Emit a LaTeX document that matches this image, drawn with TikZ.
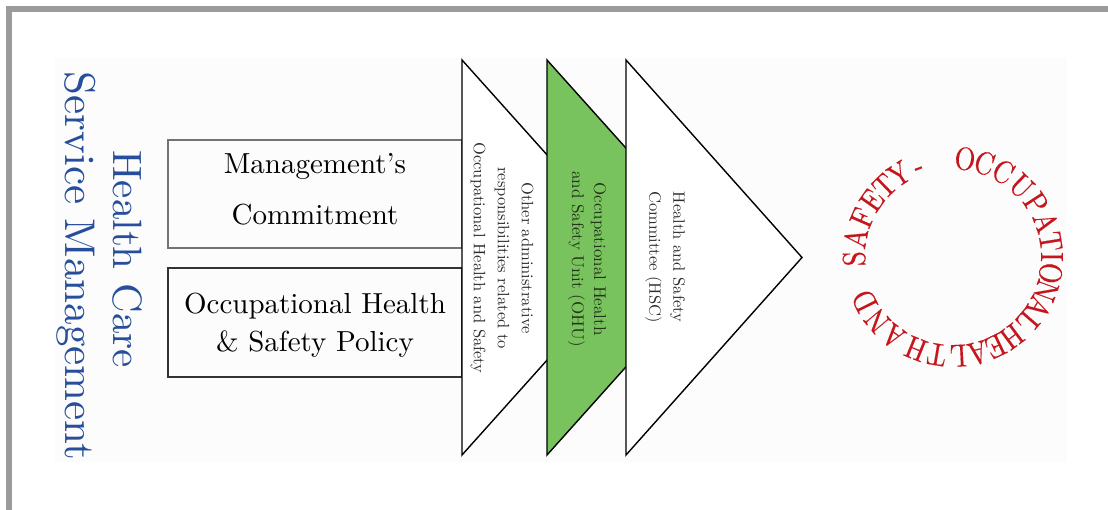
\documentclass[tikz,border=0pt]{standalone}
\usepackage{fontspec}
% fixed 10pt design of Latin Modern at every size
\setmainfont{lmroman10-regular.otf}[BoldFont=lmroman10-bold.otf]
\newfontfamily\ringfont{lmroman10-regular.otf}[FakeStretch=0.84, FakeBold=0.3]

\definecolor{framegray}{RGB}{155,155,155}
\definecolor{panelgray}{RGB}{252,252,252}
\definecolor{titleblue}{RGB}{38,78,156}
\definecolor{unitgreen}{RGB}{120,195,94}
\definecolor{ringred}{RGB}{196,22,28}
\definecolor{textgray}{RGB}{45,45,45}
\definecolor{unittext}{RGB}{36,52,26}

\begin{document}
\begin{tikzpicture}[x=1pt,y=1pt,
  box/.style={draw, line width=1.3pt, minimum width=294pt, inner sep=0pt},
  boxtext/.style={align=center, text=black, inner sep=0pt},
  chevron/.style={draw=black, line width=1.4pt, line join=miter},
  vlabel/.style={rotate=-90, align=center, text=textgray, inner sep=0pt},
  title/.style={rotate=-90, anchor=base, text=titleblue, inner sep=0pt},
  ringletter/.style={anchor=base, inner sep=0pt, text=ringred,
                     font=\ringfont\fontsize{32}{32}\selectfont}]

\useasboundingbox (0,0) rectangle (1108,510);

% page frame and light panel
\fill[framegray] (6,0) rectangle (12,504);
\fill[framegray] (6,498) rectangle (1108,504);
\fill[panelgray] (55,48) rectangle (1067,452);

% vertical title
\node[title, font=\fontsize{41}{41}\selectfont] (hc) at (113,251) {Health Care};
\node[title, font=\fontsize{43}{43}\selectfont] (sm) at (65,244) {Service Management};

% the two foundation boxes
\node[box, draw=black!55, minimum height=108pt] (commit) at (315,316) {};
\node[boxtext, font=\fontsize{29}{51}\selectfont] (committext)
  at ([yshift=4.5pt]commit.center) {Management's\\Commitment};
\node[box, draw=black!80, minimum height=109pt] (policy) at (315,187.5) {};
\node[boxtext, font=\fontsize{29}{38}\selectfont] (policytext)
  at ([yshift=-2.5pt]policy.center) {Occupational Health\\\& Safety Policy};

% three overlapping chevrons
\coordinate (t1top) at (462,450); \coordinate (t1bot) at (462,55);
\coordinate (t1tip) at (639,252.5);
\coordinate (t2top) at (547,450); \coordinate (t2bot) at (547,55);
\coordinate (t2tip) at (724,252.5);
\coordinate (t3top) at (626,450); \coordinate (t3bot) at (626,55);
\coordinate (t3tip) at (802,252.5);

\draw[chevron, fill=white] (t1top) -- (t1tip) -- (t1bot) -- cycle;
\draw[chevron, fill=unitgreen] (t2top) -- (t2tip) -- (t2bot) -- cycle;
\draw[chevron, fill=white] (t3top) -- (t3tip) -- (t3bot) -- cycle;

\node[vlabel, font=\fontsize{16.5}{24}\selectfont] (admin) at (502,252)
  {Other administrative\\responsibilities related to\\Occupational Health and Safety};
\node[vlabel, text=unittext, font=\fontsize{17}{22}\selectfont] (ohu) at (587,251)
  {Occupational Health\\and Safety Unit (OHU)};
\node[vlabel, font=\fontsize{16.5}{24}\selectfont] (hsc) at (665,253)
  {Health and Safety\\Committee (HSC)};

% circular lettering, read clockwise, tops facing outwards
\coordinate (ring) at (953,253);
\foreach \ch/\ang [count=\i] in {
    O/83, C/71.5, C/59.5, U/46, P/33, A/20.5, T/9, I/0, O/-9.5,
    N/-20, A/-30.5, L/-41,
    H/-53.5, E/-64.5, A/-75.5, L/-87, T/-99.5, H/-112,
    A/-127, N/-140, D/-153.5,
    S/-179, A/-191, F/-203.5, E/-215, T/-226, Y/-237, -/-249}
  \node[ringletter, rotate=\ang-90] (ring\i) at ([shift={(\ang:88)}]ring) {\ch};

\end{tikzpicture}
\end{document}
